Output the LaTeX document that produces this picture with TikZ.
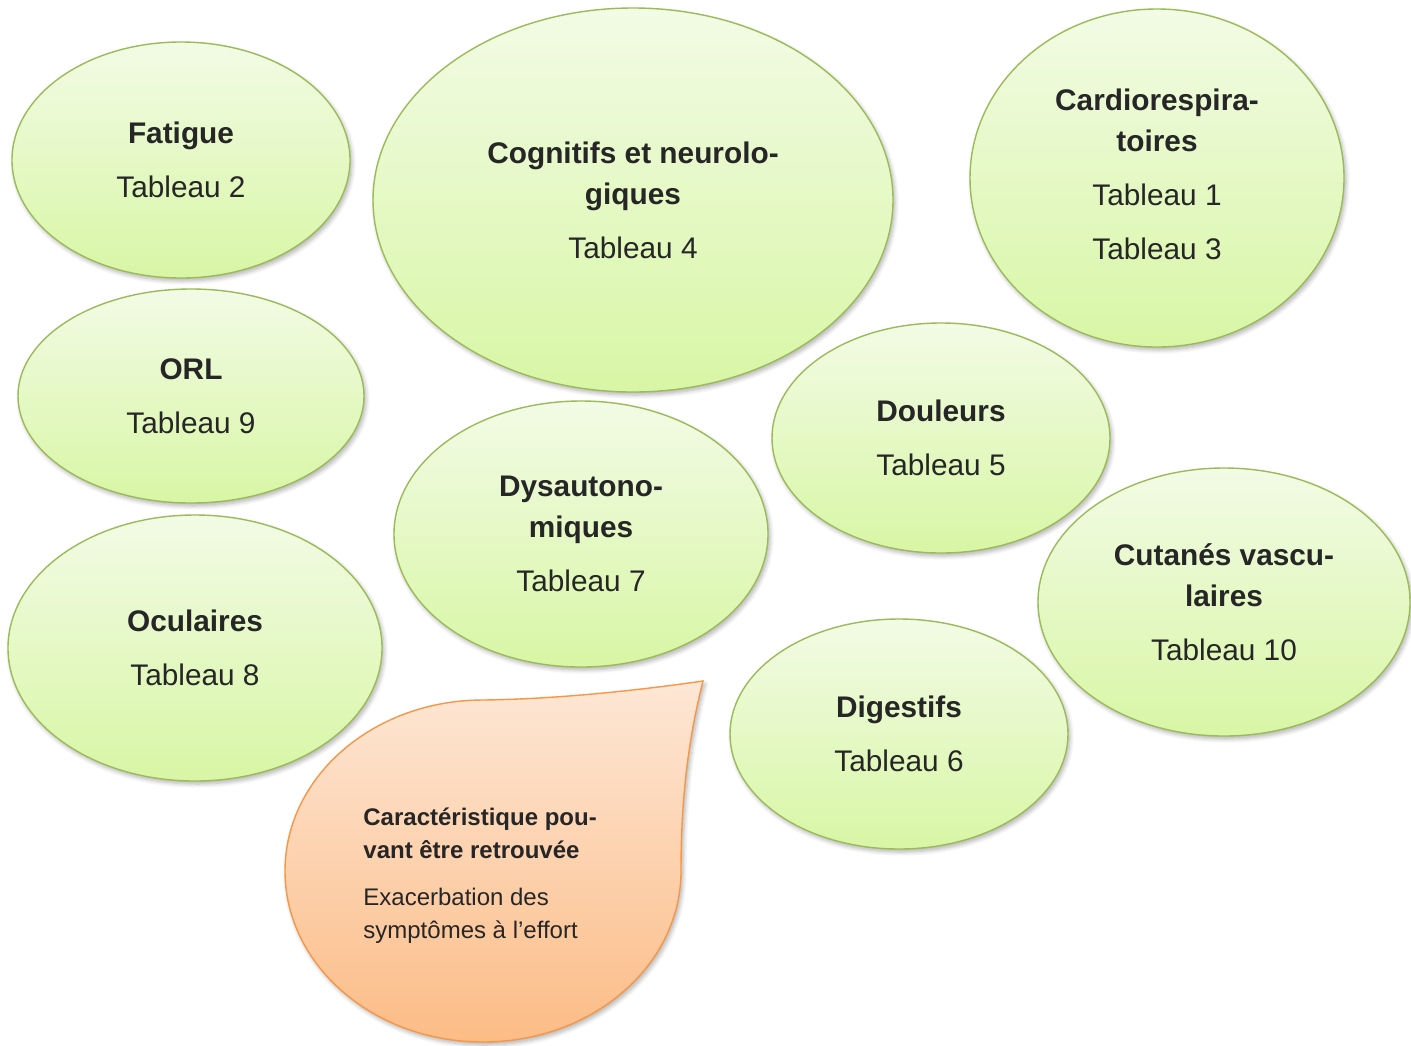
\documentclass[tikz,border=0pt]{standalone}
\usepackage{fontspec}
\setmainfont{Liberation Sans}
\usepackage{tikz}
\usetikzlibrary{shapes.geometric}
\usetikzlibrary{shadows.blur}

\definecolor{leafline}{HTML}{9BBB59}
\definecolor{leaftop}{HTML}{F2FBE5}
\definecolor{leafbot}{HTML}{D8F6A5}
\definecolor{droptop}{HTML}{FDE7D6}
\definecolor{dropbot}{HTML}{FCBC86}
\definecolor{dropline}{HTML}{F79646}
\definecolor{inktext}{HTML}{262626}

\tikzset{
  bubble/.style={ellipse, draw=leafline, line width=0.7pt,
    top color=leaftop, bottom color=leafbot,
    blur shadow={shadow xshift=1pt, shadow yshift=-1.5pt, shadow blur steps=6, shadow opacity=30},
    text=inktext, align=center, inner sep=0pt,
    font=\fontsize{14.9}{20.5}\selectfont},
  droplet/.style={draw=dropline, line width=0.7pt,
    top color=droptop, bottom color=dropbot,
    blur shadow={shadow xshift=1pt, shadow yshift=-1.5pt, shadow blur steps=6, shadow opacity=30}},
}

\begin{document}
\begin{tikzpicture}[x=0.5pt, y=-0.5pt]
\useasboundingbox (0,0) rectangle (1411,1045);

\node[bubble, minimum width=169pt, minimum height=118pt] (fatigue) at (181,160)
  {\textbf{Fatigue}\\[6.5pt] Tableau 2};
\node[bubble, minimum width=260pt, minimum height=192pt] (cognitif) at (633,200)
  {\textbf{Cognitifs et neurolo-}\\ \textbf{giques}\\[6.5pt] Tableau 4};
\node[bubble, minimum width=187pt, minimum height=169pt, text depth=3.5pt] (cardio) at (1157,178)
  {\textbf{Cardiorespira-}\\ \textbf{toires}\\[6.5pt] Tableau 1\\[6.5pt] Tableau 3};
\node[bubble, minimum width=173pt, minimum height=107pt] (orl) at (191,396)
  {\textbf{ORL}\\[6.5pt] Tableau 9};
\node[bubble, minimum width=169pt, minimum height=115pt] (douleur) at (941,438)
  {\textbf{Douleurs}\\[6.5pt] Tableau 5};
\node[bubble, minimum width=187pt, minimum height=133pt] (dysauto) at (581,534)
  {\textbf{Dysautono-}\\ \textbf{miques}\\[6.5pt] Tableau 7};
\node[bubble, minimum width=187pt, minimum height=133pt] (oculaire) at (195,648)
  {\textbf{Oculaires}\\[6.5pt] Tableau 8};
\node[bubble, minimum width=186pt, minimum height=134pt] (cutane) at (1224,602)
  {\textbf{Cutanés vascu-}\\ \textbf{laires}\\[6.5pt] Tableau 10};
\node[bubble, minimum width=169pt, minimum height=115pt] (digestif) at (899,734)
  {\textbf{Digestifs}\\[6.5pt] Tableau 6};

% goutte
\draw[droplet] (483,700) .. controls (560,699) and (640,690) .. (703,681)
  .. controls (688,740) and (681,800) .. (681,871)
  arc[start angle=0, end angle=270, x radius=198, y radius=171] -- cycle;
\node[anchor=west, align=left, inner sep=0pt, text=inktext,
  font=\fontsize{12}{16.5}\selectfont] (effort) at (363,876)
  {\textbf{Caractéristique pou-}\\ \textbf{vant être retrouvée}\\[7pt]
   Exacerbation des\\ symptômes à l’effort};

\end{tikzpicture}
\end{document}
